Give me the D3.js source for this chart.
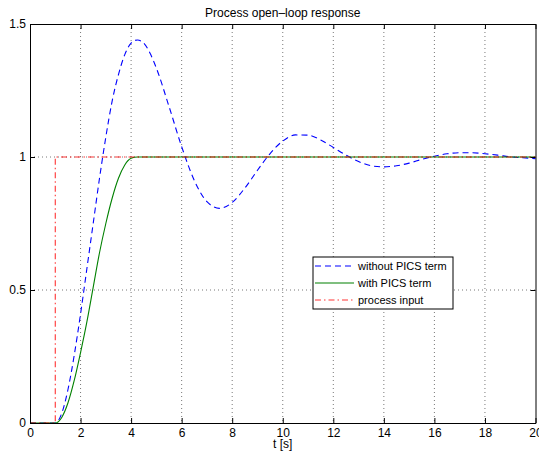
<!DOCTYPE html>
<html>
<head>
<meta charset="utf-8" />
<title>Process open-loop response</title>
<script src="https://cdn.jsdelivr.net/npm/d3@7"></script>
<style>
body { margin: 0; background: #fff; }
svg text { font-family: "Liberation Sans", Arial, Helvetica, sans-serif; }
</style>
</head>
<body>
<div id="chart"></div>
<script>
// values
const tBlue = [0, 0.5, 1, 1.25, 1.5, 1.75, 2, 2.25, 2.5, 2.75, 3, 3.25, 3.5, 3.75, 4, 4.25, 4.5, 4.75, 5,
  5.5, 6, 6.5, 7, 7.5, 8, 8.5, 9, 9.5, 10, 10.5, 11, 11.5, 12, 12.5, 13, 13.5, 14, 14.5, 15,
  15.5, 16, 16.5, 17, 17.5, 18, 18.5, 19, 19.5, 20];
const withoutPics = [0, 0, 0, 0.035, 0.125, 0.255, 0.41, 0.58, 0.75, 0.92, 1.075, 1.21, 1.31, 1.385, 1.428, 1.44, 1.428, 1.39, 1.334,
  1.19, 1.039, 0.912, 0.832, 0.807, 0.829, 0.883, 0.95, 1.013, 1.06, 1.083, 1.082, 1.064, 1.036, 1.007, 0.983, 0.967, 0.963, 0.967, 0.977,
  0.991, 1.003, 1.012, 1.016, 1.016, 1.012, 1.007, 1.001, 0.997, 0.994];

const tGreen = [0, 0.5, 1, 1.25, 1.5, 1.75, 2, 2.25, 2.5, 2.75, 3, 3.25, 3.5, 3.75, 4, 4.25, 5, 6, 8, 10, 12, 14, 16, 18, 20];
const withPics = [0, 0, 0, 0.02, 0.075, 0.16, 0.265, 0.38, 0.51, 0.64, 0.75, 0.845, 0.92, 0.97, 0.995, 1, 1, 1, 1, 1, 1, 1, 1, 1, 1];

const tInput = [0, 1, 1, 20];
const processInput = [0, 0, 1, 1];

const xTicks = [0, 2, 4, 6, 8, 10, 12, 14, 16, 18, 20];
const yTicks = [0, 0.5, 1, 1.5];
const yTickLabels = ["0", "0.5", "1", "1.5"];

const width = 539, height = 455;
const margin = {top: 24, right: 3.5, bottom: 32, left: 30};

const svg = d3.select("#chart").append("svg")
  .attr("width", width)
  .attr("height", height);

const x = d3.scaleLinear().domain([0, 20]).range([margin.left, width - margin.right]);
const y = d3.scaleLinear().domain([0, 1.5]).range([height - margin.bottom, margin.top]);

// grid
const grid = svg.append("g").attr("stroke", "#555").attr("stroke-width", 0.8).attr("stroke-dasharray", "1,3");
grid.selectAll(".gx").data(xTicks.slice(1, -1)).enter().append("line")
  .attr("x1", d => x(d)).attr("x2", d => x(d))
  .attr("y1", y(1.5)).attr("y2", y(0));
grid.selectAll(".gy").data(yTicks.slice(1, -1)).enter().append("line")
  .attr("x1", x(0)).attr("x2", x(20))
  .attr("y1", d => y(d)).attr("y2", d => y(d));

// curves
const line = d3.line().x(d => x(d[0])).y(d => y(d[1]));
const curve = d3.line().x(d => x(d[0])).y(d => y(d[1])).curve(d3.curveMonotoneX);

svg.append("path")
  .attr("d", curve(d3.zip(tBlue, withoutPics)))
  .attr("fill", "none").attr("stroke", "#0000ff").attr("stroke-width", 1.1)
  .attr("stroke-dasharray", "6,4");

svg.append("path")
  .attr("d", curve(d3.zip(tGreen, withPics)))
  .attr("fill", "none").attr("stroke", "#008000").attr("stroke-width", 1.1);

svg.append("path")
  .attr("d", line(d3.zip(tInput, processInput)))
  .attr("fill", "none").attr("stroke", "#ff0000").attr("stroke-width", 1.1).attr("stroke-opacity", 0.8)
  .attr("stroke-dasharray", "6,3,1.5,3");

// axes (ticks inside, box around)
const ax = svg.append("g").attr("transform", `translate(0,${y(0)})`)
  .call(d3.axisBottom(x).tickValues(xTicks).tickSizeInner(-5).tickSizeOuter(0).tickPadding(5));
const ay = svg.append("g").attr("transform", `translate(${x(0)},0)`)
  .call(d3.axisLeft(y).tickValues(yTicks).tickFormat((d, i) => yTickLabels[i]).tickSizeInner(-5).tickSizeOuter(0).tickPadding(4));
const at = svg.append("g").attr("transform", `translate(0,${y(1.5)})`)
  .call(d3.axisTop(x).tickValues(xTicks).tickFormat("").tickSizeInner(-5).tickSizeOuter(0));
const ar = svg.append("g").attr("transform", `translate(${x(20)},0)`)
  .call(d3.axisRight(y).tickValues(yTicks).tickFormat("").tickSizeInner(-5).tickSizeOuter(0));
[ax, ay, at, ar].forEach(g => {
  g.selectAll("text").attr("font-size", 12).attr("font-family", "Liberation Sans, Arial, sans-serif").attr("fill", "#000");
  g.selectAll("line").attr("stroke", "#000");
  g.select(".domain").attr("stroke", "#000");
});

// title and label
svg.append("text").attr("x", (x(0) + x(20)) / 2).attr("y", 17)
  .attr("text-anchor", "middle").attr("font-size", 12).text("Process open\u2013loop response");
svg.append("text").attr("x", (x(0) + x(20)) / 2).attr("y", 448)
  .attr("text-anchor", "middle").attr("font-size", 12).text("t [s]");

// legend
const legendItems = [
  {label: "without PICS term", color: "#0000ff", dash: "6,4", op: 1},
  {label: "with PICS term", color: "#008000", dash: null, op: 1},
  {label: "process input", color: "#ff0000", dash: "6,3,1.5,3", op: 0.8}
];
const lg = svg.append("g").attr("transform", "translate(313,257)");
lg.append("rect").attr("width", 140).attr("height", 52)
  .attr("fill", "#fff").attr("stroke", "#000").attr("stroke-width", 1);
const li = lg.selectAll(".item").data(legendItems).enter().append("g")
  .attr("transform", (d, i) => `translate(0,${9 + i * 17})`);
li.append("line").attr("x1", 2).attr("x2", 41)
  .attr("stroke", d => d.color).attr("stroke-opacity", d => d.op).attr("stroke-width", 1.1)
  .attr("stroke-dasharray", d => d.dash);
li.append("text").attr("x", 45).attr("y", 4).attr("font-size", 11).text(d => d.label);
</script>
</body>
</html>
